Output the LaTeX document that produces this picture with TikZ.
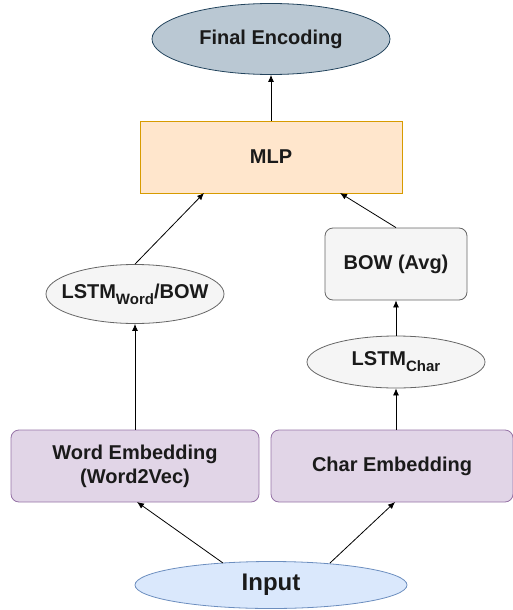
\documentclass[tikz,border=0pt]{standalone}
\usepackage{fontspec}
\setmainfont{Liberation Sans}
\usetikzlibrary{shapes.geometric,positioning,arrows.meta}
\definecolor{encfill}{HTML}{BAC8D3}
\definecolor{encline}{HTML}{23445D}
\definecolor{mlpfill}{HTML}{FFE6CC}
\definecolor{mlpline}{HTML}{D79B00}
\definecolor{grayfill}{HTML}{F5F5F5}
\definecolor{grayline}{HTML}{666666}
\definecolor{embfill}{HTML}{E1D5E7}
\definecolor{embline}{HTML}{9673A6}
\definecolor{inpfill}{HTML}{DAE8FC}
\definecolor{inpline}{HTML}{6C8EBF}
\definecolor{txt}{HTML}{1A1A1A}
\newcommand{\lsub}[1]{\raisebox{-0.3em}{\fontsize{15}{15}\selectfont #1}}

\begin{document}
\begin{tikzpicture}[x=1pt,y=-1pt,
		every node/.style={font=\fontsize{20}{24}\selectfont\bfseries, text=txt, align=center, inner sep=0pt},
		oval/.style={ellipse, draw, line width=0.8pt, inner xsep=-20pt},
		box/.style={rectangle, draw, line width=0.8pt, minimum height=72pt},
		rbox/.style={box, rounded corners=8pt},
		>={Latex[length=7pt,width=6pt]}]
	\useasboundingbox (0,0) rectangle (513,610);

	\node[oval, fill=encfill, draw=encline, minimum width=238pt, minimum height=71pt] (enc) at (271,39) {Final Encoding};
	\node[box, fill=mlpfill, draw=mlpline, minimum width=262pt] (mlp) at (271,157) {MLP};

	\node[oval, fill=grayfill, draw=grayline, minimum width=178pt, minimum height=59pt] (lword) at (135,294) {LSTM\lsub{Word}/BOW};
	\node[rbox, fill=grayfill, draw=grayline, minimum width=142pt] (bow) at (396,264) {BOW (Avg)};
	\node[oval, fill=grayfill, draw=grayline, minimum width=178pt, minimum height=52pt] (lchar) at (396,362) {LSTM\lsub{Char}};

	\node[rbox, fill=embfill, draw=embline, minimum width=248pt] (wemb) at (135,466) {Word Embedding\\(Word2Vec)};
	\node[rbox, fill=embfill, draw=embline, minimum width=242pt] (cemb) at (392,466) {Char Embedding};

	\node[oval, fill=inpfill, draw=inpline, minimum width=272pt, minimum height=47pt, font=\fontsize{24}{28}\selectfont\bfseries] (inp) at (271,585) {Input};

	% arrow end points
	\coordinate (inl) at (223,563);
	\coordinate (inr) at (330,563);
	\coordinate (wemtip) at (137,502);
	\coordinate (cemtip) at (395,502);
	\coordinate (mlpl) at (204,193);
	\coordinate (mlpr) at (340,193);

	% connections
	\draw[->, line width=0.8pt] (inl) -- (wemtip);
	\draw[->, line width=0.8pt] (inr) -- (cemtip);
	\draw[->, line width=0.8pt] (wemb) -- (lword);
	\draw[->, line width=0.8pt] (cemb.north -| lchar) -- (lchar);
	\draw[->, line width=0.8pt] (lchar) -- (bow);
	\draw[->, line width=0.8pt] (lword.north) -- (mlpl);
	\draw[->, line width=0.8pt] (bow.north) -- (mlpr);
	\draw[->, line width=0.8pt] (mlp) -- (enc);
\end{tikzpicture}
\end{document}
